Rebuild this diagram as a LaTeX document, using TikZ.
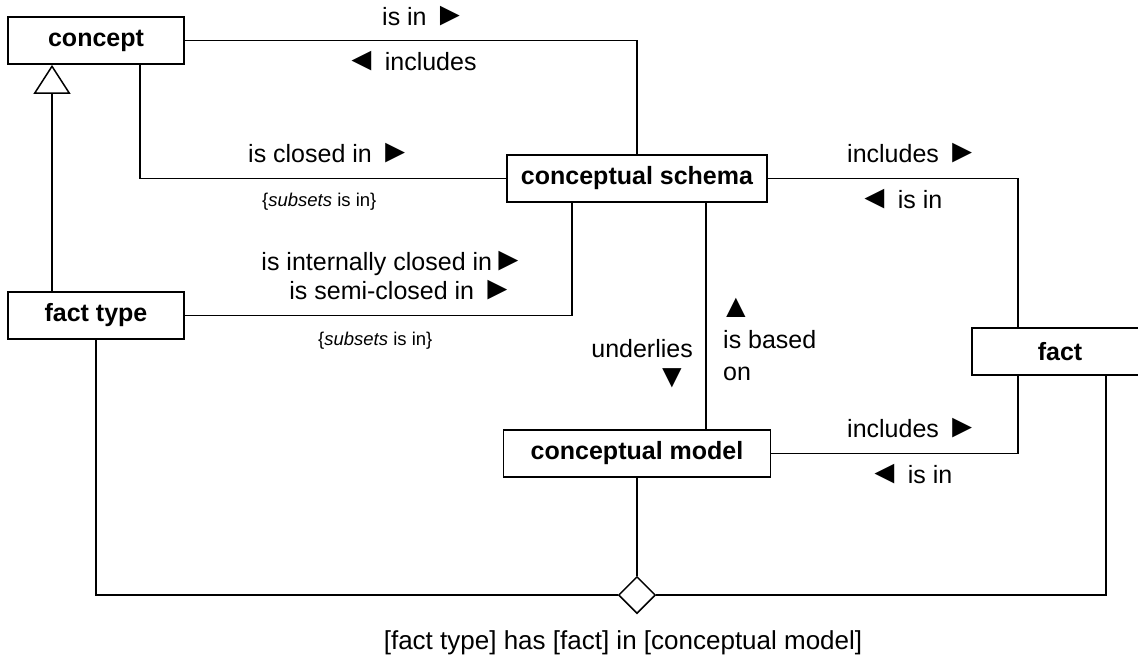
\documentclass[tikz,border=0pt]{standalone}
\usepackage{fontspec}
\setmainfont{Liberation Sans}
\usetikzlibrary{shapes.geometric,arrows.meta}
% larger pointer glyphs for reading directions
\newcommand\dirmark[1]{{\fontsize{33}{30}\selectfont #1}}
\begin{document}
\begin{tikzpicture}[x=1pt,y=-1pt,
  entity/.style={draw, line width=1.8pt, minimum height=47pt, inner sep=0pt,
    font=\fontsize{25}{30}\selectfont\bfseries},
  link/.style={line width=1.3pt},
  lbl/.style={inner sep=0pt, font=\fontsize{25}{30}\selectfont},
  note/.style={inner sep=0pt, font=\fontsize{18.5}{22}\selectfont},
]
\useasboundingbox (0,0) rectangle (1138,656);
\clip (0,0) rectangle (1138,656);

% entity types
\node[entity, minimum width=176pt] (concept) at (96,40.5) {concept};
\node[entity, minimum width=176pt] (ftype) at (96,315.5) {fact type};
\node[entity, minimum width=260pt] (schema) at (637,178.5) {conceptual schema};
\node[entity, minimum width=267pt] (model) at (637,453.5) {conceptual model};
\node[entity, minimum width=176pt] (fact) at (1060,351.5) {fact};
\node[draw, diamond, line width=1.5pt, minimum width=37pt, minimum height=37pt,
      inner sep=0pt, fill=white] (rel) at (637,595) {};

% columns where connectors leave the boxes
\coordinate (gx) at (52,0);
\coordinate (cx) at (140,0);
\coordinate (sx1) at (572,0);
\coordinate (sx2) at (706,0);
\coordinate (fx1) at (1018,0);
\coordinate (fx2) at (1106,0);

% generalization
\draw[link, -{Triangle[open, width=37pt, length=29pt, line width=1.5pt]}]
  (gx |- ftype.north) -- (gx |- concept.south);

% associations
\draw[link] (concept.east) -| (schema.north);
\draw[link] (cx |- concept.south) |- (schema.west);
\draw[link] (sx1 |- schema.south) |- (ftype.east);
\draw[link] (sx2 |- schema.south) -- (sx2 |- model.north);
\draw[link] (schema.east) -| (fx1 |- fact.north);
\draw[link] (model.east) -| (fx1 |- fact.south);
\draw[link] (model.south) -- (rel.north);
\draw[link] (ftype.south) |- (rel.west);
\draw[link] (fx2 |- fact.south) |- (rel.east);

% role labels
\node[lbl, anchor=base west] (isin1) at (382,25) {is in \dirmark{►}};
\node[lbl, anchor=base west] (incl1) at (345,70) {\dirmark{◄} includes};
\node[lbl, anchor=base west] (closed) at (248,162) {is closed in \dirmark{►}};
\node[note, anchor=base west] (sub1) at (262,206) {\{\textit{subsets} is in\}};
\node[lbl, anchor=base east] (intcl) at (525,270) {is internally closed in\dirmark{►}};
\node[lbl, anchor=base east] (semicl) at (514,299) {is semi-closed in \dirmark{►}};
\node[note, anchor=base west] (sub2) at (318,345) {\{\textit{subsets} is in\}};
\node[lbl, anchor=base west] (incl2) at (847,162) {includes \dirmark{►}};
\node[lbl, anchor=base west] (isin2) at (858,208) {\dirmark{◄} is in};
\node[lbl, anchor=base east] (under) at (693,357) {underlies};
\node[lbl] (downtri) at (672,378) {\dirmark{▼}};
\node[lbl] (uptri) at (736,308) {\dirmark{▲}};
\node[lbl, anchor=base west] (based) at (723,348) {is based};
\node[lbl, anchor=base west] (on) at (723,380) {on};
\node[lbl, anchor=base west] (incl3) at (847,437) {includes \dirmark{►}};
\node[lbl, anchor=base west] (isin3) at (868,483) {\dirmark{◄} is in};
\node[lbl, anchor=base, font=\fontsize{26}{30}\selectfont] (reading) at (623,649)
  {[fact type] has [fact] in [conceptual model]};
\end{tikzpicture}
\end{document}
